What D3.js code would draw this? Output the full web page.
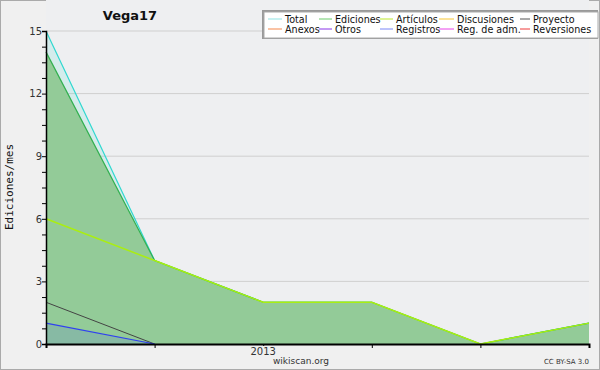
<!DOCTYPE html>
<html><head><meta charset="utf-8">
<script src="https://cdn.jsdelivr.net/npm/d3@7"></script>
<style>body{margin:0;background:#f0f0f0}svg{display:block}text{font-family:"DejaVu Sans",sans-serif}</style>
</head><body><svg id="c" width="600" height="370"></svg>
<script>
const months = ["2012-11","2012-12","2013-01","2013-02","2013-03","2013-04"];
const total = [15,4,2,2,0,1];
const ediciones = [14,4,2,2,0,1];
const articulos = [6,4,2,2,0,1];
const proyecto = [2,0,0,0,0,0];
const registros = [1,0,0,0,0,0];
const yTicks = [0,3,6,9,12,15];
const xLabels = [{i:2,t:"2013"}];
const legendNames = ["Total","Ediciones","Artículos","Discusiones","Proyecto","Anexos","Otros","Registros","Reg. de adm.","Reversiones"];
const legendColors = ["#8fe3e3","#6bcb6b","#bde82a","#f7c632","#555555","#f5874a","#8a35e8","#7a86f7","#e845e8","#ee3a3a"];

const svg = d3.select("#c");
svg.append("rect").attr("x",0.5).attr("y",0.5).attr("width",599).attr("height",369).attr("fill","#f0f0f0").attr("stroke","#aaa");
const L=46,R=589,T=31,B=344;
svg.append("rect").attr("x",L).attr("y",T-31).attr("width",R-L).attr("height",B-T+31).attr("fill","#eeeff1");
const x = d3.scaleLinear().domain([0,months.length-1]).range([L,R]);
const y = d3.scaleLinear().domain([0,15]).range([B,T]);

svg.append("g").selectAll("line").data(yTicks.filter(d=>d>0)).join("line")
 .attr("x1",L).attr("x2",R).attr("y1",d=>y(d)).attr("y2",d=>y(d)).attr("stroke","#cfcfcf").attr("stroke-width",1);

const area = d3.area().x((d,i)=>x(i)).y0(y(0)).y1(d=>y(d));
const line = d3.line().x((d,i)=>x(i)).y(d=>y(d));
svg.append("path").datum(total).attr("d",area).attr("fill","#40e0d0").attr("fill-opacity",0.15);
svg.append("path").datum(ediciones).attr("d",area).attr("fill","#93cb98");
svg.append("path").datum(registros).attr("d",area).attr("fill","#3344ff").attr("fill-opacity",0.12);

svg.append("path").datum(total).attr("d",line).attr("fill","none").attr("stroke","#30d8d0").attr("stroke-width",1.2);
svg.append("path").datum(ediciones).attr("d",line).attr("fill","none").attr("stroke","#33b050").attr("stroke-width",1.2);
svg.append("path").datum(articulos).attr("d",line).attr("fill","none").attr("stroke","#aaee11").attr("stroke-width",1.5);
svg.append("path").datum(proyecto.slice(0,2)).attr("d",line).attr("fill","none").attr("stroke","#444").attr("stroke-width",1);
svg.append("path").datum(registros.slice(0,2)).attr("d",line).attr("fill","none").attr("stroke","#3040f0").attr("stroke-width",1.2);

const yAxis = d3.axisLeft(y).tickValues(d3.range(0,15.01,0.75)).tickSize(4).tickFormat(d=>yTicks.includes(d)?d:"");
const gy = svg.append("g").attr("transform",`translate(${L},0)`).call(yAxis);
gy.select(".domain").attr("stroke","#000").attr("stroke-width",1.5);
gy.selectAll(".tick line").attr("stroke","#000");
gy.selectAll(".tick text").attr("font-size",10).attr("fill","#333").attr("x",-4).style("font-family","DejaVu Sans");

const xAxis = d3.axisBottom(x).tickValues(d3.range(0,months.length)).tickSize(4).tickFormat(()=> "");
const gx = svg.append("g").attr("transform",`translate(0,${B})`).call(xAxis);
gx.select(".domain").attr("stroke","#000").attr("stroke-width",2);
gx.selectAll(".tick line").attr("stroke","#000").attr("y2",d=>xLabels.some(l=>l.i===d)?2:4);
svg.append("g").selectAll("text").data(xLabels).join("text")
 .attr("x",d=>x(d.i)).attr("y",355).attr("text-anchor","middle").attr("font-size",10).attr("fill","#333").text(d=>d.t);

svg.append("text").attr("transform","translate(13,187) rotate(-90)").attr("text-anchor","middle")
 .attr("font-size",11).style("font-family","DejaVu Sans Mono").attr("fill","#111").text("Ediciones/mes");
svg.append("text").attr("x",130).attr("y",20).attr("text-anchor","middle").attr("font-size",13).attr("font-weight","bold").attr("fill","#111").text("Vega17");
svg.append("text").attr("x",301).attr("y",364).attr("text-anchor","middle").attr("font-size",9).attr("fill","#333").text("wikiscan.org");
svg.append("text").attr("x",589).attr("y",364).attr("text-anchor","end").attr("font-size",7).attr("fill","#333").text("CC BY-SA 3.0");

svg.append("rect").attr("x",262).attr("y",10).attr("width",336).attr("height",29).attr("fill","#999");
svg.append("rect").attr("x",264).attr("y",12).attr("width",334).attr("height",26).attr("fill","#fff").attr("stroke","#aaa");
const colX=[268,319,380,439,520], textX=[285,335,396,457,533];
const lg = svg.append("g").selectAll("g").data(legendNames).join("g");
lg.append("line").attr("x1",(d,i)=>colX[i%5]).attr("x2",(d,i)=>textX[i%5]-3).attr("y1",(d,i)=>i<5?19:29).attr("y2",(d,i)=>i<5?19:29)
 .attr("stroke",(d,i)=>legendColors[i]).attr("stroke-width",1);
lg.append("text").attr("x",(d,i)=>textX[i%5]).attr("y",(d,i)=>i<5?23:33).attr("font-size",9.6).attr("fill","#111").text(d=>d);
</script></body></html>
